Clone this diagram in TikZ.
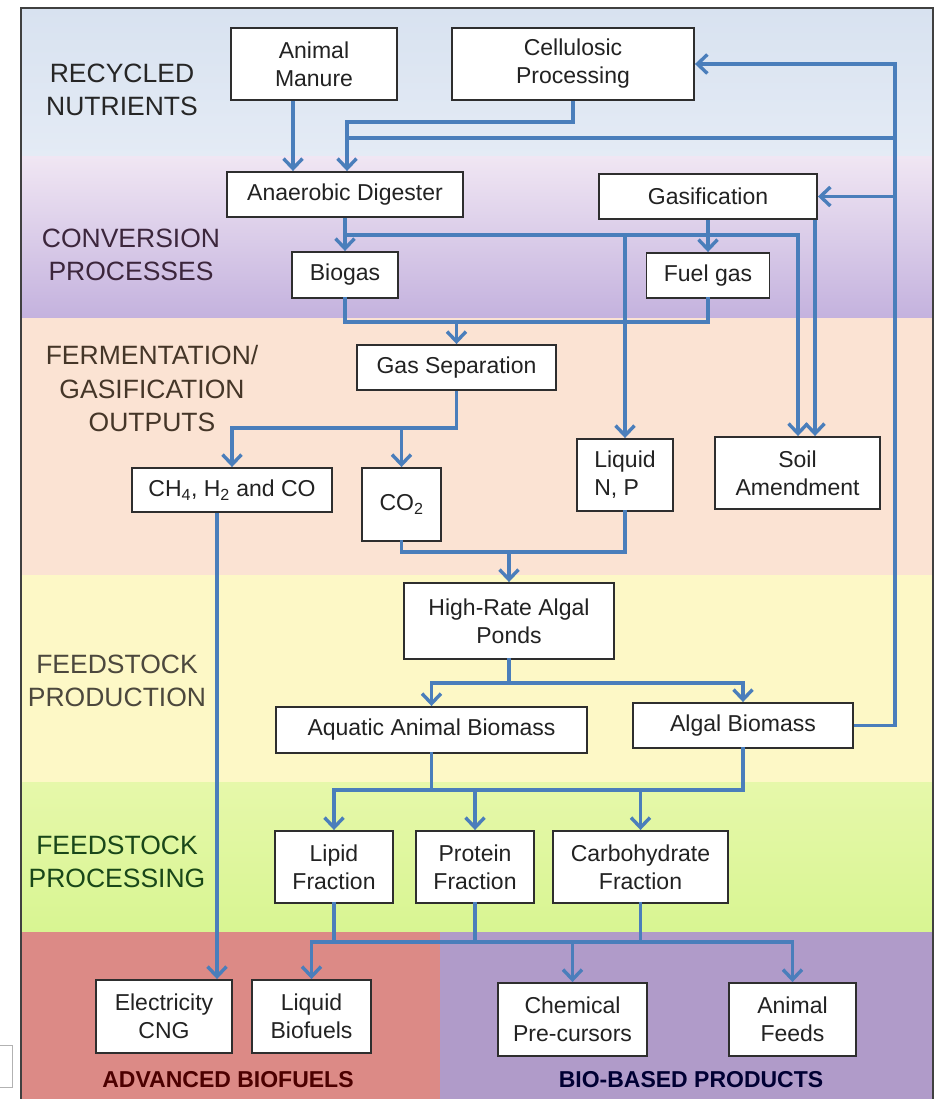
\documentclass[tikz,border=0pt]{standalone}
\usepackage{fontspec}
\setmainfont{Liberation Sans}
\usetikzlibrary{arrows.meta}
\definecolor{flow}{HTML}{4A7EBB}
\definecolor{frame}{HTML}{404040}
\definecolor{boxline}{HTML}{2E2E2E}
\definecolor{boxtext}{HTML}{222222}
\definecolor{recTop}{HTML}{D8E2F0}
\definecolor{recBot}{HTML}{E4EBF5}
\definecolor{convTop}{HTML}{F0E6F3}
\definecolor{convBot}{HTML}{C4B2DE}
\definecolor{ferm}{HTML}{FBE3D3}
\definecolor{prod}{HTML}{FDF8C6}
\definecolor{procTop}{HTML}{E6F8AA}
\definecolor{procBot}{HTML}{D8F592}
\definecolor{advred}{HTML}{DC8A86}
\definecolor{biopurp}{HTML}{B09BC9}
\begin{document}
\begin{tikzpicture}[x=1pt,y=-1pt,
  box/.style={draw=boxline,line width=1.9pt,fill=white,inner sep=0pt,align=center,
    text=boxtext,font=\fontsize{23}{28}\selectfont},
  lab/.style={align=center,font=\fontsize{26.5}{33.5}\selectfont},
  foot/.style={font=\bfseries\fontsize{23}{27}\selectfont},
  tip/.tip={Straight Barb[length=10pt,width=19pt]},
  ln/.style={draw=flow,line width=3.4pt,line cap=rect},
  arr/.style={draw=flow,line width=3.4pt,-tip},
  both/.style={draw=flow,line width=3.4pt,tip-tip}]
\useasboundingbox (0,0) rectangle (937,1099);
\fill[white] (0,0) rectangle (937,1099);
% bands
\shade[top color=recTop,bottom color=recBot] (21,8) rectangle (933,157);
\shade[top color=convTop,bottom color=convBot] (21,157) rectangle (933,318);
\fill[ferm] (21,318) rectangle (933,575);
\fill[prod] (21,575) rectangle (933,782);
\shade[top color=procTop,bottom color=procBot] (21,782) rectangle (933,932);
\fill[advred] (21,932) rectangle (440,1099);
\fill[biopurp] (440,932) rectangle (933,1099);
\draw[frame,line width=1.6pt] (21,1099) -- (21,8) -- (933,8) -- (933,1099);
\draw[gray!60,line width=0.8pt,fill=white] (-2,1045) rectangle (12,1087);
% section labels
\node[lab,text=black!85] (lRec) at (122,90) {RECYCLED\\NUTRIENTS};
\node[lab,text=violet!20!black!85] (lConv) at (131,255) {CONVERSION\\PROCESSES};
\node[lab,text=brown!25!black!90] (lFerm) at (152,389) {FERMENTATION/\\GASIFICATION\\OUTPUTS};
\node[lab,text=olive!20!black!90] (lProd) at (117,681) {FEEDSTOCK\\PRODUCTION};
\node[lab,text=green!20!black!90] (lProc) at (117,862) {FEEDSTOCK\\PROCESSING};
\node[foot,text=red!30!black] (lAdv) at (228,1080) {ADVANCED BIOFUELS};
\node[foot,text=blue!20!black] (lBio) at (691,1080) {BIO-BASED PRODUCTS};
% boxes
\node[box,minimum width=166pt,minimum height=72pt] (manure) at (314,64) {Animal\\Manure};
\node[box,minimum width=242pt,minimum height=72pt] (cellulosic) at (573,64) {Cellulosic\\Processing};
\node[box,minimum width=236pt,minimum height=45pt] (digester) at (345,194.5) {Anaerobic Digester};
\node[box,minimum width=218pt,minimum height=45pt] (gasif) at (708,196.5) {Gasification};
\node[box,minimum width=106pt,minimum height=46pt] (biogas) at (345,275) {Biogas};
\node[box,minimum width=123pt,minimum height=45pt] (fuelgas) at (708,275.5) {Fuel gas};
\node[box,minimum width=199pt,minimum height=45pt] (gassep) at (456.5,367.5) {Gas Separation};
\node[box,minimum width=200pt,minimum height=44pt] (ch4) at (232,490) {CH\textsubscript{4}, H\textsubscript{2} and CO};
\node[box,minimum width=79pt,minimum height=73pt] (co2) at (401.5,504.5) {CO\textsubscript{2}};
\node[box,minimum width=96pt,minimum height=72pt,align=left] (liquidnp) at (625,475) {Liquid\\N, P};
\node[box,minimum width=165pt,minimum height=72pt] (soil) at (797.5,473) {Soil\\Amendment};
\node[box,minimum width=210pt,minimum height=76pt] (hrap) at (509,621) {High-Rate Algal\\Ponds};
\node[box,minimum width=311pt,minimum height=46pt] (aquatic) at (431.5,730) {Aquatic Animal Biomass};
\node[box,minimum width=220pt,minimum height=45pt] (algal) at (743,725.5) {Algal Biomass};
\node[box,minimum width=118pt,minimum height=72pt] (lipid) at (334,867) {Lipid\\Fraction};
\node[box,minimum width=118pt,minimum height=72pt] (protein) at (475,867) {Protein\\Fraction};
\node[box,minimum width=175pt,minimum height=72pt] (carb) at (640.5,867) {Carbohydrate\\Fraction};
\node[box,minimum width=136pt,minimum height=73pt] (elec) at (164,1016.5) {Electricity\\CNG};
\node[box,minimum width=119pt,minimum height=73pt] (liqbio) at (311.5,1016.5) {Liquid\\Biofuels};
\node[box,minimum width=149pt,minimum height=73pt] (chem) at (572.5,1019.5) {Chemical\\Pre-cursors};
\node[box,minimum width=127pt,minimum height=73pt] (feeds) at (792.5,1019.5) {Animal\\Feeds};
% connectors
\draw[arr] (manure.south -| 293,0) -- (digester.north -| 293,0);
\draw[arr] (cellulosic.south) |- (347,122) -- (digester.north -| 347,0);
\coordinate (loopTop) at (895,64);
\coordinate (loopMid) at (895,138);
\draw[arr] (algal.east) -| (loopTop) -- (cellulosic.east);
\draw[arr] (gasif.east -| loopTop) -- (gasif.east);
\draw[ln] (loopMid) -- (347,138);
\draw[arr] (digester.south) -- (biogas.north);
\draw[arr] (digester.south |- 0,235) -| (soil.north -| 798,0);
\draw[arr] (liquidnp.north |- 0,235) -- (liquidnp.north);
\draw[arr] (gasif.south) -- (fuelgas.north);
\draw[arr] (gasif.south -| 815,0) -- (soil.north -| 815,0);
\draw[ln] (biogas.south) |- (fuelgas.south |- 0,322) -- (fuelgas.south);
\draw[arr] (gassep.north |- 0,322) -- (gassep.north);
\draw[arr] (gassep.south) |- (ch4.north |- 0,428) -- (ch4.north);
\draw[arr] (co2.north |- 0,428) -- (co2.north);
\draw[ln] (co2.south) |- (liquidnp.south |- 0,552) -- (liquidnp.south);
\draw[arr] (hrap.north |- 0,552) -- (hrap.north);
\draw[arr] (ch4.south -| 217,0) -- (elec.north -| 217,0);
\draw[ln] (hrap.south) -- (hrap.south |- 0,683);
\draw[both] (aquatic.north) -- (aquatic.north |- 0,683) -- (algal.north |- 0,683) -- (algal.north);
\draw[ln] (aquatic.south) -- (aquatic.south |- 0,790);
\draw[ln] (algal.south) -- (algal.south |- 0,790);
\draw[both] (lipid.north) -- (lipid.north |- 0,790) -- (algal.south |- 0,790) -| (carb.north);
\draw[arr] (protein.north |- 0,790) -- (protein.north);
\draw[ln] (lipid.south) -- (lipid.south |- 0,942);
\draw[ln] (protein.south) -- (protein.south |- 0,942);
\draw[ln] (carb.south) -- (carb.south |- 0,942);
\draw[both] (liqbio.north) -- (liqbio.north |- 0,942) -- (feeds.north |- 0,942) -- (feeds.north);
\draw[arr] (chem.north |- 0,942) -- (chem.north);
\end{tikzpicture}
\end{document}
